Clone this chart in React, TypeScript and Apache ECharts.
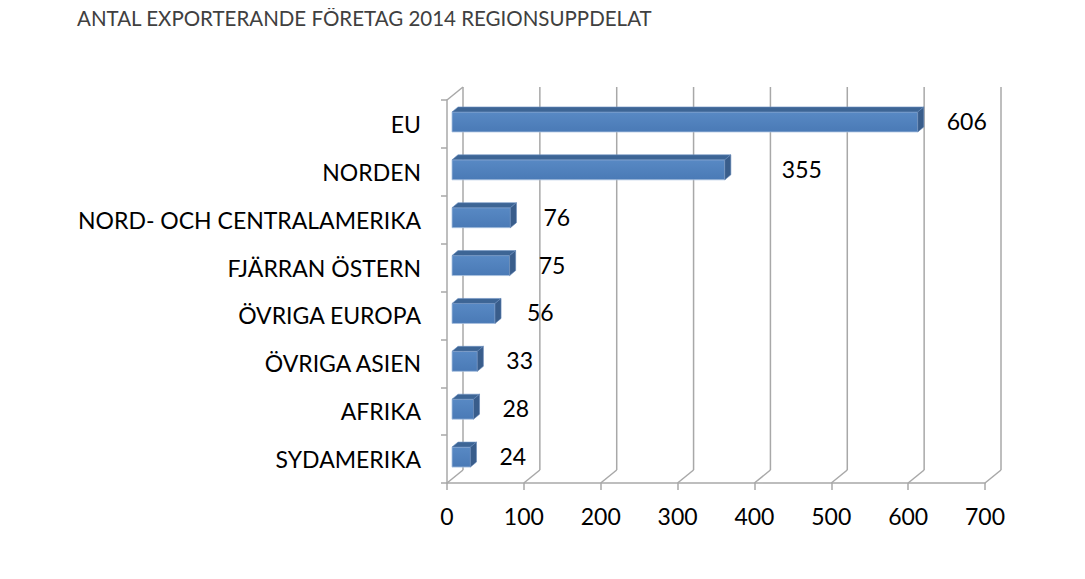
import React, { useEffect, useRef } from "react";
import * as echarts from "echarts";

const categories = [
  "EU",
  "NORDEN",
  "NORD- OCH CENTRALAMERIKA",
  "FJÄRRAN ÖSTERN",
  "ÖVRIGA EUROPA",
  "ÖVRIGA ASIEN",
  "AFRIKA",
  "SYDAMERIKA",
];
const values = [606, 355, 76, 75, 56, 33, 28, 24];
const xTicks = [0, 100, 200, 300, 400, 500, 600, 700];
const title = "ANTAL EXPORTERANDE FÖRETAG 2014 REGIONSUPPDELAT";

const FONT = "Lato, 'Open Sans', sans-serif";
const DX = 16; // depth of back wall
const DY = 13;
const GRID = "#A8A8A8";

export default function App() {
  const ref = useRef<HTMLDivElement>(null);
  useEffect(() => {
    if (!ref.current) return;
    const chart = echarts.init(ref.current, undefined, { renderer: "svg" });

    const wallData = xTicks.map((t) => [t, 0]);
    const barData = values.map((v, i) => [v, i]);

    const option: any = {
      animation: false,
      backgroundColor: "#ffffff",
      title: {
        text: title,
        left: 77,
        top: 7,
        padding: 0,
        textStyle: {
          fontFamily: FONT,
          fontSize: 20.5,
          fontWeight: "normal",
          color: "#404040",
        },
      },
      grid: { left: 447, width: 538, top: 100, bottom: 96 },
      xAxis: {
        type: "value",
        min: 0,
        max: 700,
        interval: 100,
        splitLine: { show: false },
        axisLine: { show: true, lineStyle: { color: GRID, width: 1.5 } },
        axisTick: { show: true, length: 7, lineStyle: { color: GRID, width: 1.5 } },
        axisLabel: {
          fontFamily: FONT,
          fontSize: 23,
          color: "#000",
          margin: 21,
        },
      },
      yAxis: {
        type: "category",
        data: categories,
        inverse: true,
        axisLine: { show: true, lineStyle: { color: GRID, width: 1.5 } },
        axisTick: { show: true, length: 6, lineStyle: { color: GRID, width: 1.5 } },
        axisLabel: {
          fontFamily: FONT,
          fontSize: 23,
          color: "#000",
          margin: 26,
        },
        splitLine: { show: false },
      },
      series: [
        {
          type: "custom",
          name: "walls",
          silent: true,
          encode: { x: 0, y: 1 },
          data: wallData,
          z: 1,
          renderItem: (params: any, api: any) => {
            const cs = params.coordSys;
            const x = api.coord([api.value(0), 0])[0];
            const top = cs.y;
            const bottom = cs.y + cs.height;
            const style = { stroke: GRID, lineWidth: 1.5 };
            const children: any[] = [
              {
                type: "line",
                shape: { x1: x + DX, y1: top - DY, x2: x + DX, y2: bottom - DY },
                style,
              },
              {
                type: "line",
                shape: { x1: x, y1: bottom, x2: x + DX, y2: bottom - DY },
                style,
              },
            ];
            if (params.dataIndex === 0) {
              children.push({
                type: "line",
                shape: { x1: x, y1: top, x2: x + DX, y2: top - DY },
                style,
              });
            }
            return { type: "group", children };
          },
        },
        {
          type: "custom",
          name: "bars",
          encode: { x: 0, y: 1 },
          data: barData,
          z: 3,
          renderItem: (params: any, api: any) => {
            const v = api.value(0);
            const idx = api.value(1);
            const p0 = api.coord([0, idx]);
            const p1 = api.coord([v, idx]);
            const off = 5;
            const d = 6;
            const dy = 5;
            const h = 20;
            const x0 = p0[0] + off;
            const x1 = p1[0] + off;
            const y0 = p0[1] - 2 - h / 2;
            const nudge = [0, 28, 4, 0, 3, 0, 0, 0][params.dataIndex] || 0;
            return {
              type: "group",
              children: [
                {
                  type: "rect",
                  shape: { x: x0, y: y0, width: x1 - x0, height: h },
                  style: {
                    fill: {
                      type: "linear",
                      x: 0,
                      y: 0,
                      x2: 0,
                      y2: 1,
                      colorStops: [
                        { offset: 0, color: "#5889C4" },
                        { offset: 1, color: "#4A7AB6" },
                      ],
                    },
                    stroke: "#A9C1E0",
                    lineWidth: 0.8,
                  },
                },
                {
                  type: "polygon",
                  shape: {
                    points: [
                      [x0, y0],
                      [x0 + d, y0 - dy],
                      [x1 + d, y0 - dy],
                      [x1, y0],
                    ],
                  },
                  style: { fill: "#3D6595", stroke: "#6E93C4", lineWidth: 0.6 },
                },
                {
                  type: "polygon",
                  shape: {
                    points: [
                      [x1, y0],
                      [x1 + d, y0 - dy],
                      [x1 + d, y0 + h - dy],
                      [x1, y0 + h],
                    ],
                  },
                  style: { fill: "#395D8B", stroke: "#5F83B3", lineWidth: 0.6 },
                },
                {
                  type: "text",
                  style: {
                    text: String(v),
                    x: x1 + 29 + nudge,
                    y: p1[1] - 3,
                    fill: "#000",
                    fontFamily: FONT,
                    fontSize: 23,
                    textAlign: "left",
                    textVerticalAlign: "middle",
                  },
                },
              ],
            };
          },
        },
      ],
    };
    chart.setOption(option);
    return () => chart.dispose();
  }, []);
  return <div ref={ref} style={{ width: 1085, height: 579, margin: -8 }} />;
}
